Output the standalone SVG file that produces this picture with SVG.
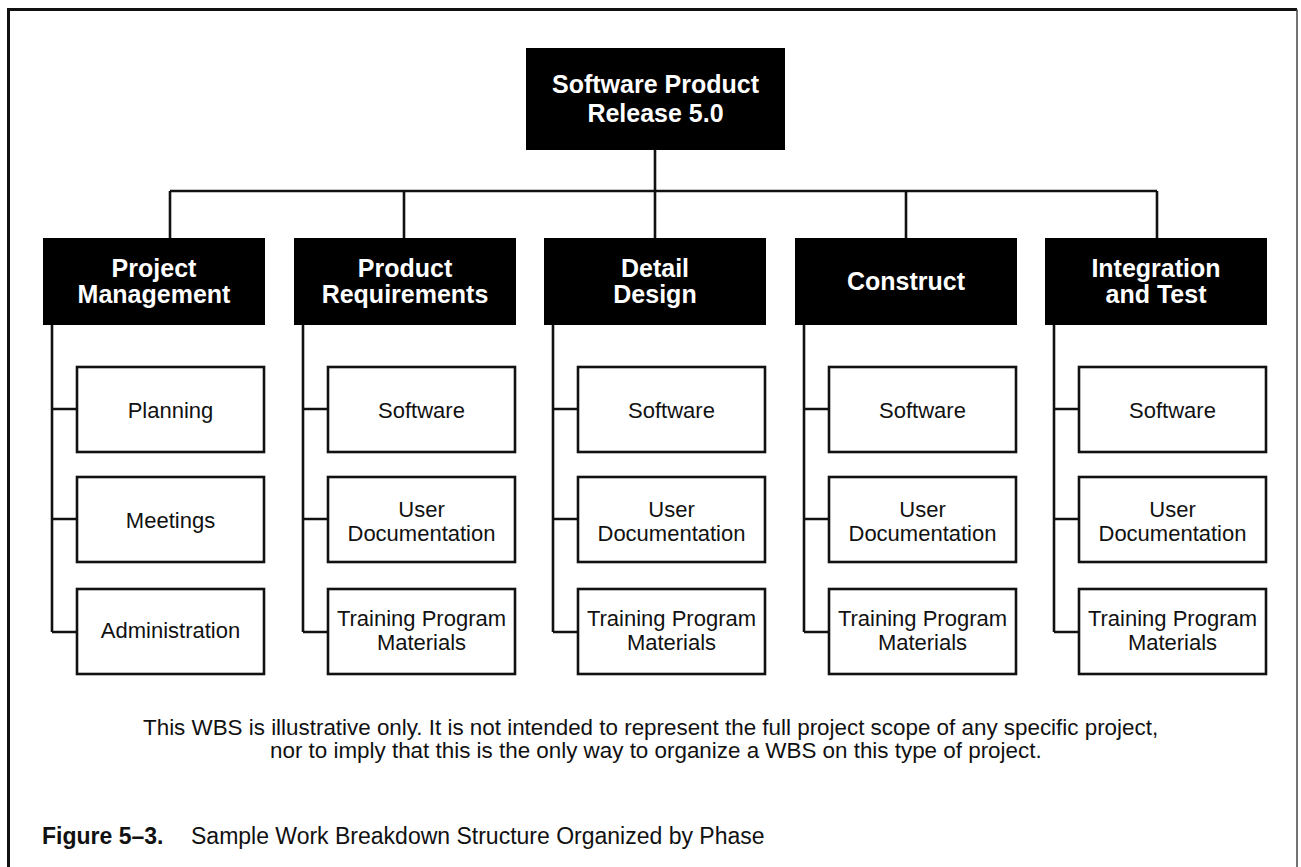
<svg xmlns="http://www.w3.org/2000/svg" width="1301" height="867" viewBox="0 0 1301 867">
<style>
.dark{fill:#000;stroke:none}
.box{fill:#fff;stroke:#111;stroke-width:2.6}
.ln{fill:none;stroke:#111;stroke-width:2.6}
.h{font-family:"Liberation Sans",Arial,sans-serif;font-weight:bold;font-size:25px;fill:#fff;text-anchor:middle}
.t{font-family:"Liberation Sans",Arial,sans-serif;font-size:22px;fill:#111;text-anchor:middle}
.note{font-family:"Liberation Sans",Arial,sans-serif;font-size:22.4px;fill:#111}
.cap{font-family:"Liberation Sans",Arial,sans-serif;font-size:23px;fill:#111}
</style>
<rect width="1301" height="867" fill="#fff"/>
<g id="frame">
<path d="M8.5 867 V9.5 H1297" fill="none" stroke="#111" stroke-width="3"/>
<path d="M1297 9.5 V867" fill="none" stroke="#444" stroke-width="1.5"/>
</g>
<g id="connectors">
<path class="ln" d="M655 150 V238 M170 191 H1157 M170 191 V238 M404 191 V238 M906 191 V238 M1157 191 V238"/>
<path class="ln" d="M52 325 V632 M52 409 H77 M52 519 H77 M52 632 H77"/>
<path class="ln" d="M303 325 V632 M303 409 H328 M303 519 H328 M303 632 H328"/>
<path class="ln" d="M553 325 V632 M553 409 H578 M553 519 H578 M553 632 H578"/>
<path class="ln" d="M804 325 V632 M804 409 H829 M804 519 H829 M804 632 H829"/>
<path class="ln" d="M1054 325 V632 M1054 409 H1079 M1054 519 H1079 M1054 632 H1079"/>
</g>
<g id="root"><rect class="dark" x="526" y="48" width="259" height="102"/><text class="h" x="655.5" y="93">Software Product</text><text class="h" x="655.5" y="122">Release 5.0</text></g>
<g id="pm"><rect class="dark" x="43" y="238" width="222" height="87"/><text class="h" x="154" y="277">Project</text><text class="h" x="154" y="303">Management</text></g>
<g id="pr"><rect class="dark" x="294" y="238" width="222" height="87"/><text class="h" x="405" y="277">Product</text><text class="h" x="405" y="303">Requirements</text></g>
<g id="dd"><rect class="dark" x="544" y="238" width="222" height="87"/><text class="h" x="655" y="277">Detail</text><text class="h" x="655" y="303">Design</text></g>
<g id="co"><rect class="dark" x="795" y="238" width="222" height="87"/><text class="h" x="906" y="290">Construct</text></g>
<g id="it"><rect class="dark" x="1045" y="238" width="222" height="87"/><text class="h" x="1156" y="277">Integration</text><text class="h" x="1156" y="303">and Test</text></g>
<g id="pm1"><rect class="box" x="77" y="367" width="187" height="85"/><text class="t" x="170.5" y="418">Planning</text></g>
<g id="pm2"><rect class="box" x="77" y="477" width="187" height="85"/><text class="t" x="170.5" y="528">Meetings</text></g>
<g id="pm3"><rect class="box" x="77" y="589" width="187" height="85"/><text class="t" x="170.5" y="638">Administration</text></g>
<g id="pr1"><rect class="box" x="328" y="367" width="187" height="85"/><text class="t" x="421.5" y="418">Software</text></g>
<g id="pr2"><rect class="box" x="328" y="477" width="187" height="85"/><text class="t" x="421.5" y="517">User</text><text class="t" x="421.5" y="541">Documentation</text></g>
<g id="pr3"><rect class="box" x="328" y="589" width="187" height="85"/><text class="t" x="421.5" y="626">Training Program</text><text class="t" x="421.5" y="650">Materials</text></g>
<g id="dd1"><rect class="box" x="578" y="367" width="187" height="85"/><text class="t" x="671.5" y="418">Software</text></g>
<g id="dd2"><rect class="box" x="578" y="477" width="187" height="85"/><text class="t" x="671.5" y="517">User</text><text class="t" x="671.5" y="541">Documentation</text></g>
<g id="dd3"><rect class="box" x="578" y="589" width="187" height="85"/><text class="t" x="671.5" y="626">Training Program</text><text class="t" x="671.5" y="650">Materials</text></g>
<g id="co1"><rect class="box" x="829" y="367" width="187" height="85"/><text class="t" x="922.5" y="418">Software</text></g>
<g id="co2"><rect class="box" x="829" y="477" width="187" height="85"/><text class="t" x="922.5" y="517">User</text><text class="t" x="922.5" y="541">Documentation</text></g>
<g id="co3"><rect class="box" x="829" y="589" width="187" height="85"/><text class="t" x="922.5" y="626">Training Program</text><text class="t" x="922.5" y="650">Materials</text></g>
<g id="it1"><rect class="box" x="1079" y="367" width="187" height="85"/><text class="t" x="1172.5" y="418">Software</text></g>
<g id="it2"><rect class="box" x="1079" y="477" width="187" height="85"/><text class="t" x="1172.5" y="517">User</text><text class="t" x="1172.5" y="541">Documentation</text></g>
<g id="it3"><rect class="box" x="1079" y="589" width="187" height="85"/><text class="t" x="1172.5" y="626">Training Program</text><text class="t" x="1172.5" y="650">Materials</text></g>
<g id="note">
<text class="note" x="143" y="735">This WBS is illustrative only. It is not intended to represent the full project scope of any specific project,</text>
<text class="note" x="270" y="758">nor to imply that this is the only way to organize a WBS on this type of project.</text>
</g>
<g id="caption">
<text class="cap" x="42" y="844" font-weight="bold">Figure 5–3.</text>
<text class="cap" x="191" y="844">Sample Work Breakdown Structure Organized by Phase</text>
</g>
</svg>
